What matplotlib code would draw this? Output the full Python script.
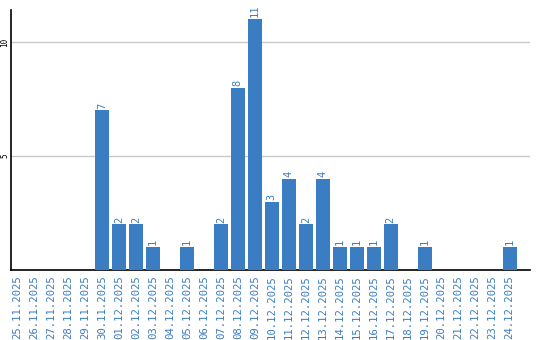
import matplotlib
matplotlib.use('Agg')
import matplotlib.pyplot as plt

# dates and daily counts
dates = ['25.11.2025', '26.11.2025', '27.11.2025', '28.11.2025', '29.11.2025',
         '30.11.2025', '01.12.2025', '02.12.2025', '03.12.2025', '04.12.2025',
         '05.12.2025', '06.12.2025', '07.12.2025', '08.12.2025', '09.12.2025',
         '10.12.2025', '11.12.2025', '12.12.2025', '13.12.2025', '14.12.2025',
         '15.12.2025', '16.12.2025', '17.12.2025', '18.12.2025', '19.12.2025',
         '20.12.2025', '21.12.2025', '22.12.2025', '23.12.2025', '24.12.2025']
counts = [0, 0, 0, 0, 0, 7, 2, 2, 1, 0, 1, 0, 2, 8, 11, 3, 4, 2, 4, 1, 1, 1, 2, 0, 1, 0, 0, 0, 0, 1]
yticks = [5, 10]

blue = '#3a7dc2'
mono = 'DejaVu Sans Mono'

fig = plt.figure(figsize=(5.4, 3.4), dpi=100)
ax = fig.add_axes([11/540, 70/340, 519/540, 260/340])

x = list(range(len(dates)))
ax.bar(x, counts, width=0.82, color=blue, zorder=3)
for xi, c in zip(x, counts):
    if c > 0:
        ax.text(xi, c + 0.08, str(c), rotation=90, ha='center', va='bottom',
                color=blue, fontsize=7.5, family=mono)

ax.set_xlim(-0.35, 30.2)
ax.set_ylim(0, 11.4)
ax.set_yticks(yticks)
ax.set_yticklabels([str(v) for v in yticks], rotation=90, va='center',
                   fontsize=5.5, family=mono)
ax.yaxis.grid(True, color='#c8c8c8', linewidth=1, zorder=0)
ax.tick_params(axis='y', length=0, pad=1)

ax.set_xticks(x)
ax.set_xticklabels(dates, rotation=90, color=blue, fontsize=7.7, family=mono)
ax.tick_params(axis='x', length=0, pad=4)

for s in ['top', 'right']:
    ax.spines[s].set_visible(False)
ax.spines['left'].set_linewidth(1.2)
ax.spines['bottom'].set_linewidth(1.2)

fig.savefig('out.png', dpi=100)
